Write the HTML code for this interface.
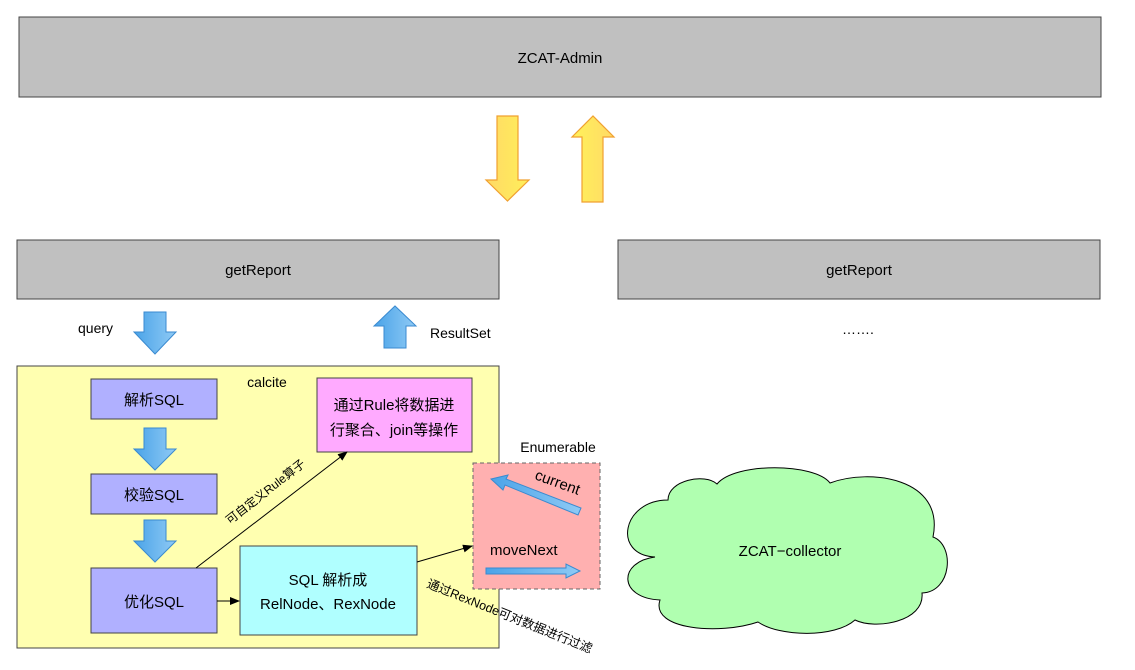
<!DOCTYPE html>
<html><head><meta charset="utf-8"><style>
body{margin:0;background:#fff;}
svg text{font-family:"Liberation Sans","Noto Sans CJK SC",sans-serif;fill:#000;}
</style></head><body>
<svg width="1135" height="665" viewBox="0 0 1135 665" xmlns="http://www.w3.org/2000/svg">
<defs>
<linearGradient id="yg" x1="0" x2="1"><stop offset="0" stop-color="#ffd966"/><stop offset="1" stop-color="#ffef5a"/></linearGradient>
<linearGradient id="yg2" x1="0" x2="1"><stop offset="0" stop-color="#fff25a"/><stop offset="1" stop-color="#ffd966"/></linearGradient>
<linearGradient id="bg" x1="0" x2="1"><stop offset="0" stop-color="#4aa3e8"/><stop offset="1" stop-color="#8fcaf5"/></linearGradient>
<marker id="ah" markerWidth="10" markerHeight="8" refX="9" refY="4" orient="auto" markerUnits="userSpaceOnUse"><path d="M0,0 L10,4 L0,8 Z" fill="#000"/></marker>
</defs>
<rect x="19" y="17" width="1082" height="80" fill="#c0c0c0" stroke="#444" stroke-width="1"/>
<text x="560" y="63" font-size="15" text-anchor="middle">ZCAT-Admin</text>
<path d="M497,116 H518 V180 H529 L507.5,201 L486,180 H497 Z" fill="url(#yg)" stroke="#f0a030" stroke-width="1.2"/>
<path d="M582,202 V137 H572 L593,116 L614,137 H603 V202 Z" fill="url(#yg2)" stroke="#f0a030" stroke-width="1.2"/>
<rect x="17" y="240" width="482" height="59" fill="#c0c0c0" stroke="#444"/>
<text x="258" y="275" font-size="15" text-anchor="middle">getReport</text>
<rect x="618" y="240" width="482" height="59" fill="#c0c0c0" stroke="#444"/>
<text x="859" y="275" font-size="15" text-anchor="middle">getReport</text>
<text x="858" y="334" font-size="14" text-anchor="middle">…….</text>
<text x="78" y="333" font-size="14">query</text>
<path d="M144,312 H166 V332 H176 L155,354 L134,332 H144 Z" fill="url(#bg)" stroke="#3a8ad0"/>
<path d="M384,348 V326 H374 L395,306 L416,326 H406 V348 Z" fill="url(#bg)" stroke="#3a8ad0"/>
<text x="430" y="338" font-size="14">ResultSet</text>
<rect x="17" y="366" width="482" height="282" fill="#ffffb0" stroke="#444"/>
<text x="267" y="387" font-size="14" text-anchor="middle">calcite</text>
<rect x="91" y="379" width="126" height="40" fill="#b0b0ff" stroke="#444"/>
<text x="154" y="405" font-size="15" text-anchor="middle">解析SQL</text>
<path d="M144,428 H166 V449 H176 L155,470 L134,449 H144 Z" fill="url(#bg)" stroke="#3a8ad0"/>
<rect x="91" y="474" width="126" height="40" fill="#b0b0ff" stroke="#444"/>
<text x="154" y="500" font-size="15" text-anchor="middle">校验SQL</text>
<path d="M144,520 H166 V541 H176 L155,562 L134,541 H144 Z" fill="url(#bg)" stroke="#3a8ad0"/>
<rect x="91" y="568" width="126" height="65" fill="#b0b0ff" stroke="#444"/>
<text x="154" y="607" font-size="15" text-anchor="middle">优化SQL</text>
<rect x="317" y="378" width="155" height="74" fill="#ffaaff" stroke="#444"/>
<text x="394" y="410" font-size="15" text-anchor="middle">通过Rule将数据进</text>
<text x="394" y="435" font-size="15" text-anchor="middle">行聚合、join等操作</text>
<rect x="240" y="546" width="177" height="89" fill="#b0ffff" stroke="#444"/>
<text x="328" y="585" font-size="15" text-anchor="middle">SQL 解析成</text>
<text x="328" y="609" font-size="15" text-anchor="middle">RelNode、RexNode</text>
<line x1="196" y1="568" x2="347" y2="452" stroke="#000" marker-end="url(#ah)"/>
<text x="268" y="495" font-size="12" text-anchor="middle" transform="rotate(-38 268 495)">可自定义Rule算子</text>
<line x1="217" y1="601" x2="239" y2="601" stroke="#000" marker-end="url(#ah)"/>
<line x1="417" y1="562" x2="472" y2="546" stroke="#000" marker-end="url(#ah)"/>
<text x="426" y="587" font-size="12.5" transform="rotate(22 426 587)">通过RexNode可对数据进行过滤</text>
<text x="558" y="452" font-size="14" text-anchor="middle">Enumerable</text>
<rect x="473" y="463" width="127" height="126" fill="#ffb0b0" stroke="#666" stroke-dasharray="4,3"/>
<text x="534" y="479" font-size="15" transform="rotate(20 534 479)">current</text>
<path d="M578,515 L581,508 L506,479 L508,475 L491,479 L503,490 L505,485 Z" fill="url(#bg)" stroke="#3a8ad0"/>
<text x="490" y="555" font-size="15">moveNext</text>
<path d="M486,568 H566 V564 L580,571 L566,578 V574 H486 Z" fill="url(#bg)" stroke="#3a8ad0"/>
<path d="M655,557 C612,555 622,500 668,500 C668,480 705,473 717,484 C735,462 815,463 830,483 C870,468 945,478 933,537 C955,545 952,592 922,593 C925,622 875,630 855,620 C835,638 780,637 758,622 C720,635 650,630 660,600 C618,598 618,562 655,557 Z" fill="#b0ffb0" stroke="#000" stroke-width="1"/>
<text x="790" y="556" font-size="15" text-anchor="middle">ZCAT−collector</text>
</svg>
</body></html>
